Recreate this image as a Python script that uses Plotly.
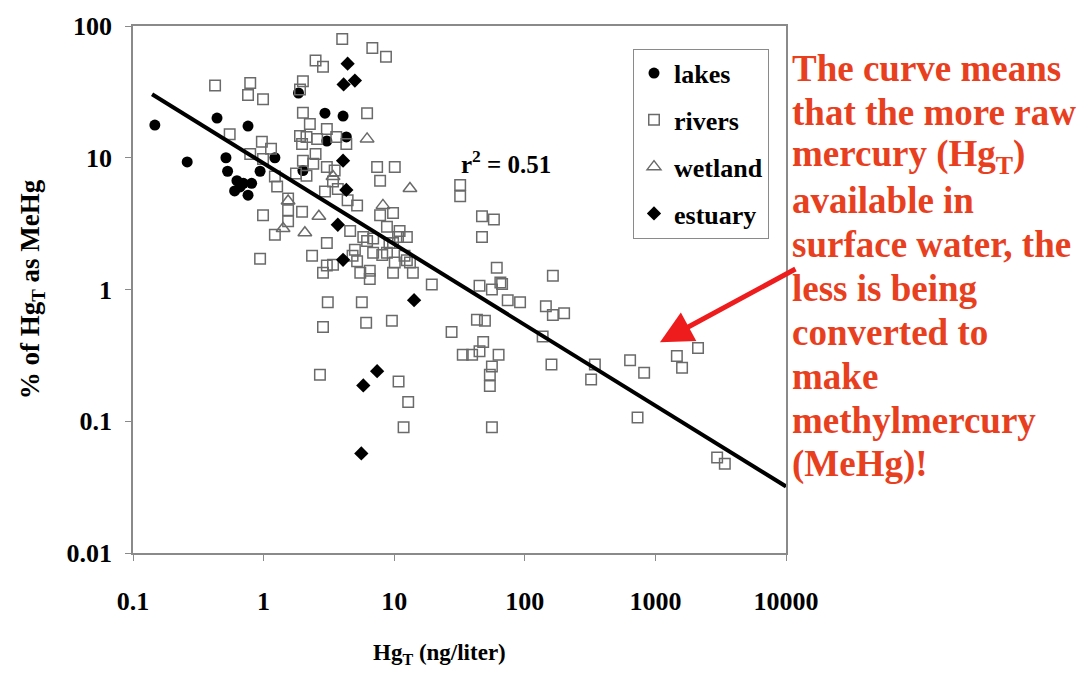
import plotly.graph_objects as go

# ---------------- data ----------------
lakes_x = [0.147, 0.26, 0.44, 0.76, 0.515, 0.53, 0.94, 0.625, 0.7, 0.81, 0.6, 0.76, 0.66,
           1.22, 2.95, 4.06, 3.05, 4.3, 1.85, 2.0]
lakes_y = [17.7, 9.3, 20, 17.4, 10, 7.9, 7.9, 6.7, 6.4, 6.4, 5.6, 5.2, 6.0,
           10, 21.8, 20.7, 13.4, 14.4, 31, 8.0]

rivers_x = [4.0, 6.8, 8.65, 2.5, 2.85, 0.425, 0.79, 0.76, 0.99, 2.0, 1.9,
            2.0, 2.26, 3.05, 2.57, 1.97, 6.2, 4.3, 7.4, 10.1, 7.8, 0.55, 0.97, 1.14, 0.79, 0.99,
            1.22, 1.27, 1.54, 1.54, 1.54, 1.97, 0.99, 1.22, 0.94, 2.35, 3.05, 3.4, 4.6, 5.2,
            6.2, 6.9, 7.8, 9.8, 8.8, 10.7, 12.5, 9.2, 12.0, 13.2,
            1.9, 2.13, 3.6, 2.5, 2.0, 2.4, 3.05, 3.5, 1.77, 2.13, 3.4, 3.7,
            2.95, 4.4, 5.8, 5.0, 5.2, 6.9, 8.1, 8.8, 9.8, 11.0, 10.1, 12.5, 5.5, 6.5, 6.5,
            9.8, 13.9, 19.4, 2.85, 3.05, 4.8,
            3.1, 5.65, 2.85, 6.1, 9.6, 2.7, 10.8, 12.8, 11.8,
            32, 32, 47, 58, 47, 61, 65, 45, 56, 67, 74, 92, 43, 49.5, 27.5, 48, 33.5, 39.5,
            45, 63, 56, 54, 54, 56, 164, 145, 164, 200, 137, 160, 344, 322, 640, 820, 730,
            1460, 1600, 2120, 2970, 3400]
rivers_y = [79.8, 68, 58.5, 54.6, 49, 35.4, 37, 30, 27.8, 38, 33,
            22, 18, 16.5, 13.9, 12.7, 21.8, 12.7, 8.5, 8.5, 6.7, 15.1, 13.2, 11.7, 10.7, 9.8,
            7.2, 6.05, 4.9, 4.0, 3.3, 3.9, 3.66, 2.6, 1.71, 1.8, 2.25, 1.54, 2.78, 4.35,
            2.33, 1.9, 3.66, 3.8, 3.0, 2.5, 2.5, 2.25, 1.8, 1.6,
            14.6, 14.4, 14.4, 10.7, 9.5, 9.0, 8.5, 8.0, 7.6, 7.3, 6.6, 5.8,
            5.55, 4.75, 2.5, 2.0, 1.64, 2.44, 1.83, 1.9, 2.25, 2.78, 1.6, 1.67, 1.34, 1.39, 1.2,
            1.34, 1.34, 1.09, 1.34, 1.52, 1.8,
            0.8, 0.8, 0.52, 0.56, 0.58, 0.225, 0.2, 0.14, 0.09,
            6.2, 5.1, 3.6, 3.4, 2.5, 1.46, 1.13, 1.07, 1.0, 1.1, 0.83, 0.8, 0.59, 0.58, 0.475,
            0.4, 0.32, 0.32, 0.34, 0.32, 0.26, 0.225, 0.185, 0.09, 1.27, 0.745, 0.64, 0.66, 0.44,
            0.27, 0.27, 0.207, 0.29, 0.233, 0.107, 0.313, 0.255, 0.36, 0.053, 0.0475]

wetland_x = [6.2, 13.2, 8.2, 2.65, 2.07, 1.41, 3.4, 1.54]
wetland_y = [13.9, 5.85, 4.35, 3.6, 2.7, 2.9, 7.2, 4.7]

estuary_x = [4.4, 4.1, 5.0, 4.06, 4.3, 3.7, 4.06, 14.2, 7.4, 5.8, 5.6]
estuary_y = [51.8, 36, 38.5, 9.5, 5.7, 3.1, 1.68, 0.83, 0.24, 0.187, 0.057]

fit_x = [0.14, 10000]
fit_y = [30.3, 0.032]

x_ticks = [0.1, 1, 10, 100, 1000, 10000]
x_ticktext = ["0.1", "1", "10", "100", "1000", "10000"]
y_ticks = [0.01, 0.1, 1, 10, 100]
y_ticktext = ["0.01", "0.1", "1", "10", "100"]

note_lines = ["The curve means", "that the more raw", "mercury (Hg<sub>T</sub>)",
              "available in", "surface water, the", "less is being", "converted to",
              "make", "methylmercury", "(MeHg)!"]

# ---------------- figure ----------------
SERIF = "Liberation Serif"
RED = "#E8401E"
GRAY = "#6a6a6a"

fig = go.Figure()
fig.add_trace(go.Scatter(x=lakes_x, y=lakes_y, mode="markers", name="lakes",
                         legendgroup="a",
                         marker=dict(symbol="circle", size=11, color="black")))
fig.add_trace(go.Scatter(x=rivers_x, y=rivers_y, mode="markers", name="rivers",
                         legendgroup="b",
                         marker=dict(symbol="square-open", size=10.5, color=GRAY,
                                     line=dict(width=1.5, color=GRAY))))
fig.add_trace(go.Scatter(x=wetland_x, y=wetland_y, mode="markers", name="wetland",
                         legendgroup="c",
                         marker=dict(symbol="triangle-up-open", size=12, color=GRAY,
                                     line=dict(width=1.5, color=GRAY))))
fig.add_trace(go.Scatter(x=estuary_x, y=estuary_y, mode="markers", name="estuary",
                         legendgroup="d",
                         marker=dict(symbol="diamond", size=11, color="black")))
fig.add_trace(go.Scatter(x=fit_x, y=fit_y, mode="lines", showlegend=False,
                         line=dict(color="black", width=4)))

axis_common = dict(showline=True, linecolor="#8a8a8a", linewidth=1.5, mirror=True,
                   ticks="outside", ticklen=6, tickcolor="#8a8a8a", showgrid=False,
                   zeroline=False, tickmode="array",
                   tickfont=dict(family=SERIF, size=26, color="black", weight="bold"))

fig.update_xaxes(type="log", range=[-1, 4], tickvals=x_ticks, ticktext=x_ticktext,
                 ticklabelstandoff=18, **axis_common)
fig.update_yaxes(type="log", range=[-2, 2], tickvals=y_ticks, ticktext=y_ticktext,
                 ticklabelstandoff=8, **axis_common)

annotations = [
    dict(text="% of Hg<sub>T</sub> as MeHg", xref="paper", yref="paper", x=-0.155, y=0.5,
         textangle=-90, showarrow=False, xanchor="center", yanchor="middle",
         font=dict(family=SERIF, size=27, color="black", weight="bold")),
    dict(text="Hg<sub>T</sub> (ng/liter)", xref="paper", yref="paper", x=0.47, y=-0.192,
         showarrow=False, xanchor="center", yanchor="middle",
         font=dict(family=SERIF, size=23, color="black", weight="bold")),
    dict(text="r<sup>2</sup> = 0.51", xref="paper", yref="paper", x=0.571, y=0.742,
         showarrow=False, xanchor="center", yanchor="middle",
         font=dict(family=SERIF, size=25, color="black", weight="bold")),
    dict(text="", xref="paper", yref="paper", x=0.807, y=0.400, ax=137, ay=-74,
         axref="pixel", ayref="pixel", showarrow=True, arrowhead=2, arrowsize=1.3,
         arrowwidth=5, arrowcolor="#EE1C1C"),
]
for i, line in enumerate(note_lines):
    ypix = 64 + 44.4 * i
    annotations.append(dict(text=line, xref="paper", yref="paper",
                            x=(790 - 133) / 653, y=1 - (ypix - 21) / 532,
                            showarrow=False, xanchor="left", yanchor="middle",
                            font=dict(family=SERIF, size=37, color=RED, weight="bold")))

fig.update_layout(
    width=1086, height=680,
    margin=dict(l=133, r=300, t=21, b=127),
    plot_bgcolor="white", paper_bgcolor="white",
    annotations=annotations,
    legend=dict(x=0.7657, y=0.957, xanchor="left", yanchor="top",
                bordercolor="#8a8a8a", borderwidth=1, bgcolor="white",
                tracegroupgap=10, traceorder="grouped",
                font=dict(family=SERIF, size=26, color="black", weight="bold")),
)

fig.write_html("out.html")
